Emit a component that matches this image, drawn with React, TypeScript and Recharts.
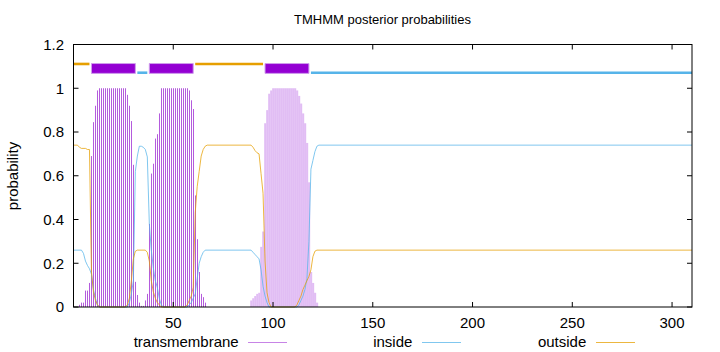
import React from "react"
import {
  ComposedChart,
  Bar,
  Line,
  XAxis,
  YAxis,
  ReferenceArea,
  ReferenceLine,
  Legend,
} from "recharts"

// transmembrane posterior, residues 1..122 (zero after that)
const tmProb = [
  0, 0, 0.01, 0.02, 0.02, 0.075, 0.075, 0.11, 0.69, 0.845,
  0.92, 0.99, 1, 1, 1, 1, 1, 1, 1, 1,
  1, 1, 1, 1, 1, 1, 0.97, 0.92, 0.85, 0.65,
  0.115, 0.055, 0.02, 0.005, 0.005, 0.03, 0.06, 0.38, 0.61, 0.655,
  0.77, 0.79, 0.885, 1, 1, 1, 1, 1, 1, 1,
  1, 1, 1, 1, 1, 1, 1, 0.99, 0.945, 0.905,
  0.51, 0.31, 0.16, 0.06, 0.045, 0.02, 0, 0, 0, 0,
  0, 0, 0, 0, 0, 0, 0, 0, 0, 0,
  0, 0, 0, 0, 0, 0, 0, 0, 0.03, 0.04,
  0.05, 0.06, 0.065, 0.275, 0.345, 0.84, 0.9, 0.975, 0.99, 1,
  1, 1, 1, 1, 1, 1, 1, 1, 1, 1,
  1, 0.99, 0.965, 0.93, 0.885, 0.84, 0.75, 0.57, 0.16, 0.11,
  0.065, 0.02,
]

// [position, probability] where the curve changes
const insideProb = [
  [0, 0.26], [4, 0.26], [5, 0.245], [6, 0.21], [7, 0.19], [8, 0.175], [9, 0.15], [10, 0.08],
  [11, 0.04], [12, 0.01], [13, 0], [27, 0], [28, 0.02], [29, 0.06], [30, 0.12], [31, 0.62],
  [32, 0.69], [33, 0.735], [34, 0.735], [35, 0.73], [36, 0.72], [37, 0.686], [38, 0.38],
  [39, 0.26], [40, 0.18], [41, 0.12], [42, 0.09], [43, 0.04], [44, 0.01], [45, 0], [57, 0],
  [58, 0.01], [59, 0.02], [60, 0.04], [61, 0.06], [62, 0.13], [63, 0.2], [64, 0.23],
  [65, 0.25], [66, 0.26], [89, 0.26], [90, 0.25], [91, 0.24], [92, 0.23], [93, 0.22],
  [94, 0.17], [95, 0.095], [96, 0.05], [97, 0.02], [98, 0], [112, 0], [113, 0.01],
  [114, 0.03], [115, 0.05], [116, 0.08], [117, 0.13], [118, 0.3], [119, 0.63], [120, 0.67],
  [121, 0.71], [122, 0.735], [123, 0.74], [310, 0.74],
]

const outsideProb = [
  [0, 0.74], [2, 0.74], [3, 0.73], [4, 0.725], [6, 0.725], [7, 0.72], [8, 0.72], [9, 0.16],
  [10, 0.07], [11, 0.03], [12, 0.01], [13, 0], [26, 0], [27, 0.01], [28, 0.04], [29, 0.12],
  [30, 0.22], [31, 0.255], [32, 0.26], [36, 0.26], [37, 0.25], [38, 0.21], [39, 0.12],
  [40, 0.07], [41, 0.04], [42, 0.02], [43, 0.01], [44, 0], [56, 0], [57, 0.01], [58, 0.03],
  [59, 0.05], [60, 0.09], [61, 0.43], [62, 0.55], [63, 0.62], [64, 0.69], [65, 0.72],
  [66, 0.735], [67, 0.74], [89, 0.74], [90, 0.73], [91, 0.715], [92, 0.705], [93, 0.7],
  [94, 0.61], [95, 0.52], [96, 0.21], [97, 0.065], [98, 0.02], [99, 0], [111, 0],
  [112, 0.01], [113, 0.03], [114, 0.05], [115, 0.08], [116, 0.1], [117, 0.12], [118, 0.14],
  [119, 0.17], [120, 0.23], [121, 0.255], [122, 0.26], [310, 0.26],
]

// predicted topology drawn above the curves
const tmSegments = [[9, 31], [38, 60], [96, 118]]
const insideSegments = [[32, 37], [119, 310]]
const outsideSegments = [[0, 8], [61, 95]]

const xTicks = [50, 100, 150, 200, 250, 300]
const yTicks = [0, 0.2, 0.4, 0.6, 0.8, 1, 1.2]
const seriesNames = ["transmembrane", "inside", "outside"]

const PURPLE = "#9400d3"
const TM_LINE = "#b45bdd"
const TM_FILL = "#e1bdf4"
const BLUE = "#56b4e9"
const ORANGE = "#e69f00"
const FONT = "'Liberation Sans', Arial, sans-serif"
const FS = 15

const PLOT = { left: 73.5, right: 692, top: 44.5, bottom: 307 }

const tmData = tmProb.map((p, i) => ({ pos: i + 1, tm: p }))
const insideData = insideProb.map(([pos, p]) => ({ pos, inside: p }))
const outsideData = outsideProb.map(([pos, p]) => ({ pos, outside: p }))

const TmShape = (props: any) => {
  const { x, y, width, height, payload } = props
  if (!height || height <= 0) return null
  const cx = x + width / 2
  // first two helices show as separate impulses, the third one is solid
  if (payload.pos < 80) {
    return <rect x={Math.floor(cx)} y={y} width={1} height={height} fill={TM_LINE} />
  }
  return <rect x={cx - 1.05} y={y} width={2.1} height={height} fill={TM_FILL} />
}

const XTick = (props: any) => {
  const { x, payload } = props
  return (
    <g>
      <line x1={x} x2={x} y1={PLOT.bottom} y2={PLOT.bottom - 5} stroke="#000" />
      <line x1={x} x2={x} y1={PLOT.top} y2={PLOT.top + 5} stroke="#000" />
      <text x={x} y={327.5} textAnchor="middle" fontSize={FS} fontFamily={FONT} fill="#000">
        {payload.value}
      </text>
    </g>
  )
}

const YTick = (props: any) => {
  const { y, payload } = props
  return (
    <g>
      <line x1={PLOT.left} x2={PLOT.left + 5} y1={y} y2={y} stroke="#000" />
      <line x1={PLOT.right - 5} x2={PLOT.right} y1={y} y2={y} stroke="#000" />
      <text x={64} y={y} dy={5.3} textAnchor="end" fontSize={FS} fontFamily={FONT} fill="#000">
        {payload.value}
      </text>
    </g>
  )
}

const legendPos = [
  { textEnd: 238.7, x1: 248, x2: 287, color: TM_LINE },
  { textEnd: 412.4, x1: 422, x2: 461, color: BLUE },
  { textEnd: 586.3, x1: 596, x2: 635, color: ORANGE },
]

const LegendBox = () => (
  <svg width={720} height={23}>
    {seriesNames.map((name, i) => (
      <g key={name}>
        <text x={legendPos[i].textEnd} y={18} textAnchor="end" fontSize={FS} fontFamily={FONT} fill="#000">
          {name}
        </text>
        <line
          x1={legendPos[i].x1}
          x2={legendPos[i].x2}
          y1={13.5}
          y2={13.5}
          stroke={legendPos[i].color}
          strokeOpacity={0.75}
        />
      </g>
    ))}
  </svg>
)

export default function App() {
  return (
    <div style={{ position: "absolute", left: 0, top: 0, width: 720, height: 352, background: "#fff" }}>
      <ComposedChart
        width={720}
        height={352}
        data={tmData}
        margin={{ top: PLOT.top, right: 720 - PLOT.right, bottom: 0, left: 0 }}
      >
        <XAxis
          dataKey="pos"
          type="number"
          domain={[0, 310]}
          ticks={xTicks}
          interval={0}
          allowDataOverflow
          height={352 - PLOT.bottom}
          axisLine={false}
          tickLine={false}
          tick={XTick}
        />
        <YAxis
          type="number"
          domain={[0, 1.2]}
          ticks={yTicks}
          interval={0}
          width={PLOT.left}
          axisLine={false}
          tickLine={false}
          tick={YTick}
        />
        <Bar dataKey="tm" name={seriesNames[0]} fill={TM_LINE} shape={TmShape} isAnimationActive={false} />
        <Line
          data={insideData}
          dataKey="inside"
          name={seriesNames[1]}
          type="linear"
          stroke={BLUE}
          strokeOpacity={0.75}
          strokeWidth={1}
          dot={false}
          isAnimationActive={false}
        />
        <Line
          data={outsideData}
          dataKey="outside"
          name={seriesNames[2]}
          type="linear"
          stroke={ORANGE}
          strokeOpacity={0.75}
          strokeWidth={1}
          dot={false}
          isAnimationActive={false}
        />
        {outsideSegments.map(([a, b]) => (
          <ReferenceLine
            key={`o-${a}`}
            segment={[{ x: a, y: 1.111 }, { x: b, y: 1.111 }]}
            stroke={ORANGE}
            strokeWidth={2.6}
          />
        ))}
        {insideSegments.map(([a, b]) => (
          <ReferenceLine
            key={`i-${a}`}
            segment={[{ x: a, y: 1.071 }, { x: b, y: 1.071 }]}
            stroke={BLUE}
            strokeWidth={2.6}
          />
        ))}
        {tmSegments.map(([a, b]) => (
          <ReferenceArea
            key={`t-${a}`}
            x1={a}
            x2={b}
            y1={1.068}
            y2={1.113}
            fill={PURPLE}
            fillOpacity={1}
            stroke="#cf9cec"
            strokeWidth={1}
          />
        ))}
        <Legend
          layout="horizontal"
          verticalAlign="middle"
          content={() => <LegendBox />}
          wrapperStyle={{ position: "absolute", left: 0, top: 329, width: 720, height: 23 }}
        />
      </ComposedChart>
      <svg
        width={720}
        height={352}
        style={{ position: "absolute", left: 0, top: 0, pointerEvents: "none" }}
      >
        <rect
          x={PLOT.left}
          y={PLOT.top}
          width={PLOT.right - PLOT.left}
          height={PLOT.bottom - PLOT.top}
          fill="none"
          stroke="#000"
          strokeWidth={1}
        />
        <text x={382.5} y={24} textAnchor="middle" fontSize={13} fontFamily={FONT} fill="#000">
          TMHMM posterior probabilities
        </text>
        <text
          x={18}
          y={176}
          transform="rotate(-90 18 176)"
          textAnchor="middle"
          fontSize={FS}
          fontFamily={FONT}
          fill="#000"
        >
          probability
        </text>
      </svg>
    </div>
  )
}
